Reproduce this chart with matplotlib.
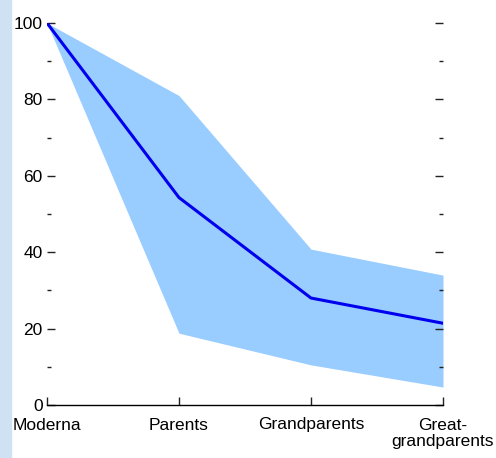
import matplotlib
matplotlib.use("Agg")
import matplotlib.pyplot as plt
import numpy as np

# datos
categorias = ["Moderna", "Parents", "Grandparents", "Great-\ngrandparents"]
media = [100, 54.3, 28.0, 21.4]
superior = [100, 81.0, 40.8, 34.0]
inferior = [100, 18.8, 10.5, 4.7]

plt.rcParams['font.family'] = ['Liberation Sans', 'DejaVu Sans']

fig = plt.figure(figsize=(4.96, 4.58), dpi=100)
# franja azul clara a la izquierda
fig.patches.append(plt.Rectangle((0, 0), 11 / 496, 1, transform=fig.transFigure,
                                 color='#cfe2f3', zorder=0))

ax = fig.add_axes([47 / 496, 53 / 458, 396 / 496, 382 / 458])
x = np.arange(len(categorias))
ax.fill_between(x, inferior, superior, color='#99ccff', linewidth=0)
ax.plot(x, media, color='#0000ee', linewidth=2.2)

ax.set_xlim(0, 3)
ax.set_ylim(0, 100)
for lado in ['left', 'top', 'right']:
    ax.spines[lado].set_visible(False)
ax.spines['bottom'].set_linewidth(1)

ax.set_xticks(x)
ax.set_xticklabels(categorias, fontsize=12.5, linespacing=1.15)
ax.set_yticks(range(0, 101, 20))
ax.set_yticks(range(10, 100, 20), minor=True)
ax.tick_params(axis='both', which='major', direction='in', length=6, width=1,
               labelsize=12.5, color='#222222')
ax.tick_params(axis='y', which='minor', direction='in', length=3, width=1, color='#222222')
ax.tick_params(axis='y', right=True, which='both')
ax.tick_params(axis='x', pad=9)
ax.tick_params(axis='y', pad=3)

plt.savefig('out.png', dpi=100)
plt.close()
